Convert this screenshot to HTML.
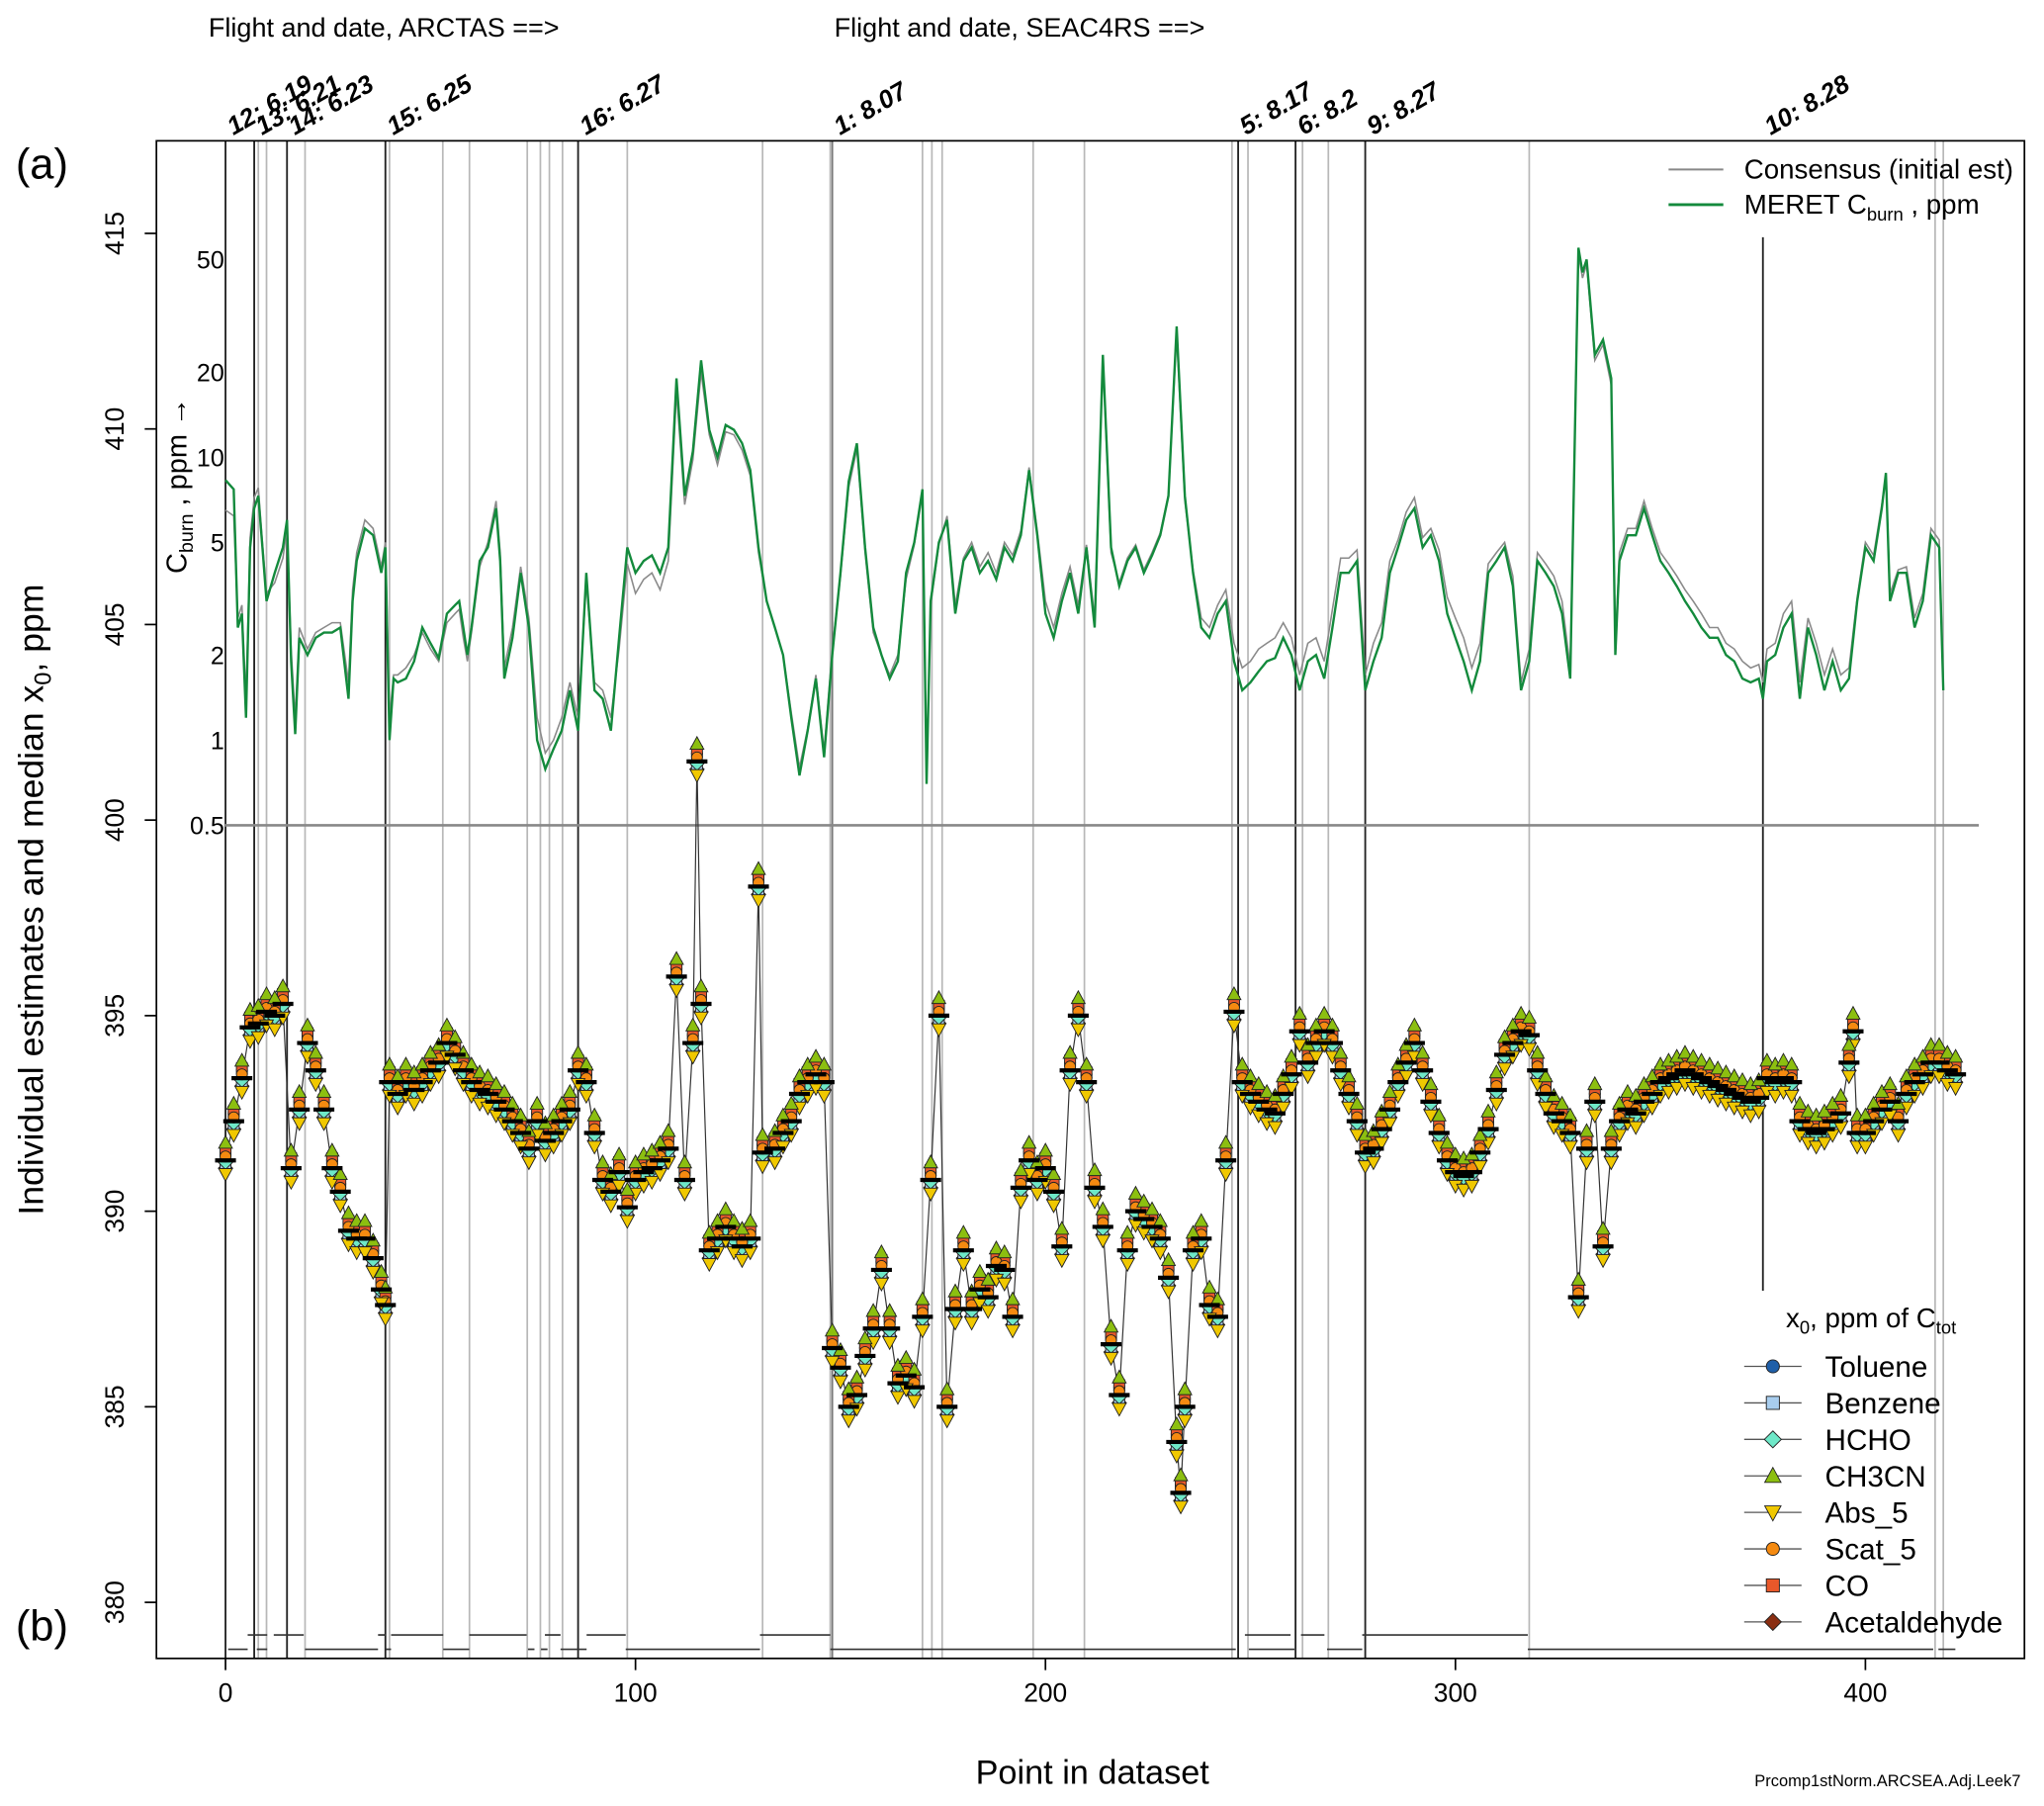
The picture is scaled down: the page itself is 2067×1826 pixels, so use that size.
<!DOCTYPE html>
<html><head><meta charset="utf-8"><style>
html,body{margin:0;padding:0;background:#fff;}
svg{display:block;font-family:"Liberation Sans",Arial,sans-serif;}
</style></head><body>
<svg id="chart" width="2067" height="1826" viewBox="0 0 1568 1385.2" preserveAspectRatio="none" xmlns="http://www.w3.org/2000/svg">
<rect x="0" y="0" width="1568" height="1386" fill="#fff"/>
<g id="flightlines"></g>
<g id="segs"></g>
<g id="cburn"></g>
<g id="pts"></g>
<rect x="120" y="108" width="1433" height="1164" fill="none" stroke="#000" stroke-width="1.3"/>
<g id="axes"></g>
<text x="12" y="137" font-size="33">(a)</text>
<text x="12" y="1258" font-size="33">(b)</text>
<text transform="translate(33,690) rotate(-90)" text-anchor="middle" font-size="27">Individual estimates and median x<tspan font-size="18" dy="6">0</tspan><tspan dy="-6">, ppm</tspan></text>
<text x="838" y="1368" text-anchor="middle" font-size="26">Point in dataset</text>
<text x="1448" y="1370" text-anchor="middle" font-size="12.5">Prcomp1stNorm.ARCSEA.Adj.Leek7</text>
<text x="160" y="28" font-size="20.5">Flight and date, ARCTAS ==&gt;</text>
<text x="640" y="28" font-size="20.5">Flight and date, SEAC4RS ==&gt;</text>
<text transform="translate(143,440) rotate(-90)" font-size="22">C<tspan font-size="15" dy="5">burn</tspan><tspan dy="-5"> , ppm  →</tspan></text>
<g>
<line x1="1280" y1="130" x2="1322" y2="130" stroke="#888" stroke-width="1.5"/>
<text x="1338" y="137" font-size="21">Consensus (initial est)</text>
<line x1="1280" y1="157" x2="1322" y2="157" stroke="#138a3c" stroke-width="2.2"/>
<text x="1338" y="164" font-size="21">MERET C<tspan font-size="14" dy="5">burn</tspan><tspan dy="-5"> , ppm</tspan></text>
</g>
<g id="legend">
<text x="1370" y="1018" font-size="21">x<tspan font-size="14" dy="5">0</tspan><tspan dy="-5">, ppm of C</tspan><tspan font-size="14" dy="5">tot</tspan></text>
</g>
</svg>
<script>
const NS="http://www.w3.org/2000/svg";
// ---- data ----
const medX=[0,2,4,6,8,10,12,14,16,18,20,22,24,26,28,30,32,34,36,38,39,40,42,44,46,48,50,52,54,56,58,60,62,64,66,68,70,72,74,76,78,80,82,84,86,88,90,92,94,96,98,100,102,104,106,108,110,112,114,115,116,118,120,122,124,126,128,130,131,134,136,138,140,142,144,146,148,150,152,154,156,158,160,162,164,166,168,170,172,174,176,178,180,182,184,186,188,190,192,194,196,198,200,202,204,206,208,210,212,214,216,218,220,222,224,226,228,230,232,233,234,236,238,240,242,244,246,248,250,252,254,256,258,260,262,264,266,268,270,272,274,276,278,280,282,284,286,288,290,292,294,296,298,300,302,304,306,308,310,312,314,316,318,320,322,324,326,328,330,332,334,336,338,340,342,344,346,348,350,352,354,356,358,360,362,364,366,368,370,372,374,376,378,380,382,384,386,388,390,392,394,396,397,398,400,402,404,406,408,410,412,414,416,418,420,422];
const medV=[391.3,392.3,393.4,394.7,394.8,395.1,395,395.3,391.1,392.6,394.3,393.6,392.6,391.1,390.5,389.5,389.3,389.3,388.8,388,387.6,393.3,393,393.3,393.1,393.3,393.6,393.8,394.3,394,393.6,393.3,393.1,393,392.8,392.6,392.3,392,391.6,392.3,391.8,392,392.3,392.6,393.6,393.3,392,390.8,390.5,391,390.1,390.8,391,391.1,391.3,391.6,396,390.8,394.3,401.5,395.3,389,389.3,389.6,389.3,389.1,389.3,398.3,391.5,391.6,392,392.3,393,393.3,393.5,393.3,386.5,386,385,385.3,386.3,387,388.5,387,385.6,385.8,385.5,387.3,390.8,395,385,387.5,389,387.5,388,387.8,388.6,388.5,387.3,390.6,391.3,390.8,391.1,390.5,389.1,393.6,395,393.3,390.6,389.6,386.6,385.3,389,390,389.8,389.6,389.3,388.3,384.1,382.8,385,389,389.3,387.6,387.3,391.3,395.1,393.3,393,392.8,392.6,392.5,393,393.5,394.6,393.8,394.3,394.6,394.3,393.6,393,392.3,391.5,391.6,392.1,392.6,393.3,393.8,394.3,393.6,392.8,392,391.3,391,390.9,391,391.5,392.1,393.1,394,394.3,394.6,394.5,393.6,393,392.5,392.3,392,387.8,391.6,392.8,389.1,391.6,392.3,392.6,392.5,392.8,393,393.3,393.4,393.5,393.6,393.5,393.4,393.3,393.2,393.1,393,392.9,392.8,392.9,393.4,393.3,393.4,393.3,392.3,392.1,392,392.1,392.3,392.5,393.8,394.6,392,392,392.3,392.6,392.8,392.3,393,393.3,393.5,393.8,393.8,393.6,393.5];
const cX=[0,2,3,4,5,6,7,8,9,10,12,14,15,16,17,18,20,22,24,26,28,30,31,32,34,36,38,39,40,41,42,44,46,48,50,52,54,56,57,58,59,60,62,64,66,67,68,70,72,74,76,78,80,82,84,86,88,90,92,94,96,98,100,102,104,106,108,110,112,114,116,118,120,122,124,126,128,130,132,134,136,138,140,142,144,146,148,150,152,154,156,158,160,162,164,166,168,170,171,172,174,176,178,180,182,184,186,188,190,192,194,196,198,200,202,204,206,208,210,212,214,216,218,220,222,224,226,228,230,232,234,236,238,240,242,244,246,248,250,252,254,256,258,260,262,264,266,268,270,272,274,276,278,280,282,284,286,288,290,292,294,296,298,300,302,304,306,308,310,312,314,316,318,320,322,324,326,328,330,331,332,334,336,338,339,340,342,344,346,348,350,352,354,356,358,360,362,364,366,368,370,372,374,375,376,378,380,382,384,386,388,390,392,394,396,398,400,402,404,405,406,408,410,412,414,416,418,419];
const meret=[8.3,7.7,2.5,2.8,1.2,4.8,6.6,7.3,4.8,3.1,3.9,4.8,6,1.9,1.05,2.3,2,2.3,2.4,2.4,2.5,1.4,3.1,4.3,5.6,5.3,3.9,4.8,1,1.65,1.6,1.65,1.9,2.5,2.2,1.95,2.8,3,3.1,2.5,2,2.5,4.3,4.8,6.6,4.3,1.65,2.3,3.9,2.5,1,0.79,0.93,1.08,1.5,1.08,3.9,1.5,1.4,1.08,2.3,4.8,3.9,4.3,4.5,3.9,4.8,19,7.3,10.5,22,12.5,10,13,12.5,11.2,9,4.8,3.1,2.5,2,1.2,0.75,1.08,1.65,0.87,2,3.9,8.2,11.2,4.8,2.5,2,1.65,1.9,3.9,5,7.7,0.7,3.1,5,6,2.8,4.3,4.8,3.9,4.3,3.7,4.8,4.3,5.3,9,5.3,2.8,2.3,3.1,3.9,2.8,4.8,2.5,23,4.8,3.5,4.3,4.8,3.9,4.5,5.3,7.3,29,7.3,3.9,2.5,2.3,2.8,3.1,1.9,1.5,1.6,1.75,1.9,1.95,2.3,2,1.5,1.9,2,1.65,2.5,3.9,3.9,4.3,1.5,1.9,2.3,3.9,4.8,6,6.6,4.8,5.3,4.3,2.8,2.3,1.9,1.5,1.9,3.9,4.3,4.8,3.5,1.5,1.9,4.3,3.9,3.5,2.8,1.65,55,45,50,23,26,19,2,4.3,5.3,5.3,6.6,5.3,4.3,3.9,3.5,3.1,2.8,2.5,2.3,2.3,2,1.9,1.65,1.6,1.65,1.4,1.9,2,2.5,2.8,1.4,2.5,2,1.5,1.9,1.5,1.65,3.1,4.8,4.3,6.6,8.8,3.1,3.9,3.9,2.5,3.1,5.3,4.8,1.5];
const consensus=[6.5,6.2,2.7,3,1.4,5.2,7.2,7.8,5,3.3,3.6,4.4,5.6,2.1,1.2,2.5,2.1,2.4,2.5,2.6,2.6,1.6,3.4,4.6,6,5.6,4.1,5,1.2,1.7,1.7,1.8,2,2.4,2.1,1.9,2.6,2.8,2.9,2.3,1.9,2.4,4.1,5,7,4.6,1.8,2.5,4.1,2.7,1.2,0.9,1,1.2,1.6,1.2,3.6,1.6,1.5,1.2,2.1,4.2,3.3,3.7,3.9,3.4,4.3,17,6.8,9.8,20,12,9.4,12.3,12,10.6,8.6,4.6,3.1,2.5,2,1.25,0.8,1.1,1.7,0.92,2.1,3.8,7.8,10.7,4.6,2.4,2,1.7,2,3.7,4.9,7.4,0.75,3,4.9,6.2,3,4.4,5,4.1,4.6,3.9,5,4.5,5.5,9.2,5.5,3.1,2.5,3.3,4.1,3,4.9,2.7,22,4.6,3.6,4.4,4.9,4,4.6,5.4,7.4,27,7,4,2.7,2.5,3,3.4,2.2,1.8,1.9,2.1,2.2,2.3,2.6,2.3,1.7,2.2,2.3,1.9,2.9,4.4,4.4,4.7,1.7,2.2,2.6,4.3,5.1,6.4,7.2,5.2,5.6,4.7,3.2,2.7,2.3,1.8,2.2,4.2,4.6,5,3.8,1.6,2.1,4.6,4.2,3.8,3.1,1.8,52,43,48,22,25,18,2.2,4.6,5.6,5.6,7,5.6,4.6,4.2,3.8,3.4,3.1,2.8,2.5,2.5,2.2,2.1,1.9,1.8,1.85,1.6,2.1,2.2,2.8,3.1,1.6,2.7,2.2,1.7,2.1,1.7,1.8,3.2,5,4.5,6.8,8.6,3.3,4,4.1,2.7,3.3,5.6,5.1,1.6];
const species=["Toluene","Benzene","HCHO","CH3CN","Abs_5","Scat_5","CO","Acetaldehyde"];
const speciesBias=[0.2,-0.1,-0.05,0.45,-0.35,0.1,0.25,-0.2];
const flightIdx=[0,7,15,39,86,148,247,261,278,375];
const flightLabels=["12:  6.19","13:  6.21","14:  6.23","15:  6.25","16:  6.27","1:  8.07","5:  8.17","6:  8.2","9:  8.27","10:  8.28"];
const grayIdx=[8,10,19.4,40,53,59.5,73.6,76.8,79,82.2,98,131,147.5,170,172.3,174.8,197,209.5,245.5,249.4,262.7,269,318,417,419];
const xTicks=[0,100,200,300,400];
const yTicks=[380,385,390,395,400,405,410,415];
const cTicks=[0.5,1,2,5,10,20,50];
// ---- scales ----
const X=i=>173+i*3.145;
const Y=v=>1229-(v-380)*30;
const YC=c=>633-217*Math.log10(c/0.5);
function el(tag,attrs,parent){const e=document.createElementNS(NS,tag);for(const k in attrs)e.setAttribute(k,attrs[k]);parent.appendChild(e);return e;}
const fl=document.getElementById('flightlines');
grayIdx.forEach(i=>{const l=el('line',{x1:X(i),x2:X(i),y1:108,y2:1272,stroke:'#b8b8b8','stroke-width':1.3},fl);

});
flightIdx.forEach((i,k)=>{const isLast=k===flightIdx.length-1;const col=(k===5)?'#777':'#222';
const l=el('line',{x1:X(i),x2:X(i),y1:isLast?182:108,y2:isLast?990:1272,stroke:col,'stroke-width':1.4},fl);


const t=el('text',{transform:`translate(${X(i)+6},104) rotate(-30)`,'font-size':19.5,'font-weight':'bold','font-style':'italic'},fl);
t.textContent=flightLabels[k];

});
// bottom segments
const sg=document.getElementById('segs');
const up=[[190,205],[210,233],[290,296],[300,340],[360,404],[418,430],[450,480],[583,637],[955,990],[998,1016],[1045,1172]];
const lo=[[175,190],[197,205],[234,290],[296,300],[340,360],[405,410],[415,420],[430,450],[480,583],[637,948],[958,993],[1018,1045],[1172,1483],[1487,1500]];
up.forEach(s=>el('line',{x1:s[0],x2:s[1],y1:1254,y2:1254,stroke:'#333','stroke-width':1.3},sg));
lo.forEach(s=>el('line',{x1:s[0],x2:s[1],y1:1265,y2:1265,stroke:'#333','stroke-width':1.3},sg));
// cburn
const cb=document.getElementById('cburn');
const base=el('line',{x1:172,x2:1518,y1:YC(0.5),y2:YC(0.5),stroke:'#888','stroke-width':2},cb);


const pc=el('polyline',{points:cX.map((x,k)=>X(x)+','+YC(consensus[k])).join(' '),fill:'none',stroke:'#8a8a8a','stroke-width':1.2},cb);


const pm=el('polyline',{points:cX.map((x,k)=>X(x)+','+YC(meret[k])).join(' '),fill:'none',stroke:'#138a3c','stroke-width':1.8},cb);


// markers
const colors=["#1f5fa8","#a8cdee","#6ee8c8","#8cbf10","#f0c800","#f58a10","#e8582a","#8a2e12"];
function marker(k,x,y,s,p){let e;
if(k===0||k===5)e=el('circle',{cx:x,cy:y,r:s},p);
else if(k===1||k===6)e=el('rect',{x:x-s,y:y-s,width:2*s,height:2*s},p);
else if(k===2||k===7)e=el('polygon',{points:`${x},${y-s*1.3} ${x+s*1.3},${y} ${x},${y+s*1.3} ${x-s*1.3},${y}`},p);
else if(k===3)e=el('polygon',{points:`${x},${y-s*1.3} ${x+s*1.25},${y+s} ${x-s*1.25},${y+s}`},p);
else e=el('polygon',{points:`${x},${y+s*1.3} ${x+s*1.25},${y-s} ${x-s*1.25},${y-s}`},p);
e.setAttribute('fill',colors[k]);e.setAttribute('stroke','#222');e.setAttribute('stroke-width',0.7);return e;}
const pg=document.getElementById('pts');
const ml=el('polyline',{points:medX.map((x,k)=>X(x)+','+Y(medV[k])).join(' '),fill:'none',stroke:'#333','stroke-width':0.9},pg);


[7,0,1,2,6,5,4,3].forEach(k=>{medX.forEach((x,j)=>{const m=marker(k,X(x),Y(medV[j]+speciesBias[k]),4.2,pg);

});});
medX.forEach((x,j)=>{const b=el('line',{x1:X(x)-8,x2:X(x)+8,y1:Y(medV[j]),y2:Y(medV[j]),stroke:'#000','stroke-width':3.2},pg);

});
// axes
const ax=document.getElementById('axes');
xTicks.forEach(v=>{el('line',{x1:X(v),x2:X(v),y1:1272,y2:1281,stroke:'#000','stroke-width':1.3},ax);
const t=el('text',{x:X(v),y:1305,'text-anchor':'middle','font-size':20},ax);t.textContent=v;

});
yTicks.forEach(v=>{el('line',{x1:111,x2:120,y1:Y(v),y2:Y(v),stroke:'#000','stroke-width':1.3},ax);
const t=el('text',{transform:`translate(95,${Y(v)}) rotate(-90)`,'text-anchor':'middle','font-size':20},ax);t.textContent=v;

});
cTicks.forEach(v=>{const t=el('text',{x:172,y:YC(v)+7,'text-anchor':'end','font-size':19},ax);t.textContent=v;

});
// legend
const lg=document.getElementById('legend');
species.forEach((s,k)=>{const y=1048+k*28;
el('line',{x1:1338,x2:1382,y1:y,y2:y,stroke:'#555','stroke-width':1},lg);
marker(k,1360,y,5,lg);
const t=el('text',{x:1400,y:y+8,'font-size':22.5},lg);t.textContent=s;

});
</script>
</body></html>
